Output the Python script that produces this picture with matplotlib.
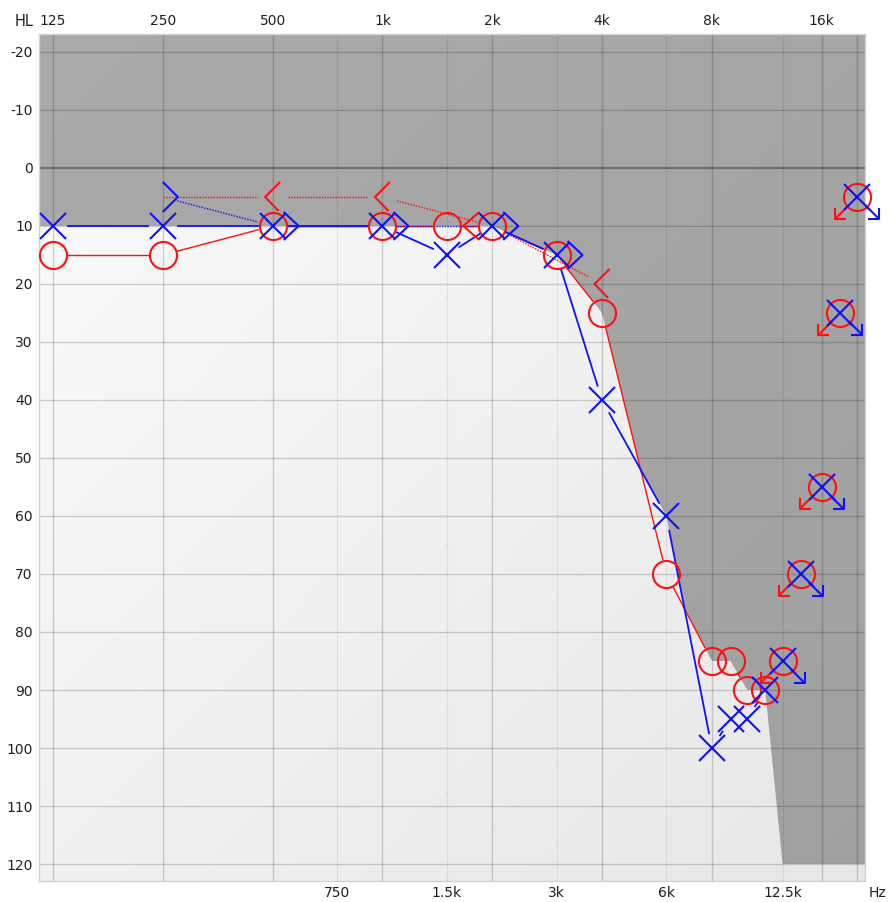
import numpy as np
import matplotlib
matplotlib.use("Agg")
import matplotlib.pyplot as plt
from matplotlib.patches import Polygon
from matplotlib import transforms

# audiogram, dB HL
air_freqs = [125, 250, 500, 1000, 1500, 2000, 3000, 4000, 6000, 8000, 9000, 10000, 11200]
right_air = [15, 15, 10, 10, 10, 10, 15, 25, 70, 85, 85, 90, 90]
left_air = [10, 10, 10, 10, 15, 10, 15, 40, 60, 100, 95, 95, 90]

# no response points (arrows)
nr_freqs = [12500, 14000, 16000, 18000, 20000]
right_nr = [85, 70, 55, 25, 5]
left_nr = [85, 70, 55, 25, 5]

# bone conduction
right_bone_freqs = [250, 500, 1000, 2000, 4000]
right_bone = [5, 5, 5, 10, 20]
right_bone_drawn = [False, True, True, True, True]
left_bone_freqs = [250, 500, 1000, 2000, 3000]
left_bone = [5, 10, 10, 10, 15]

top_freqs = [125, 250, 500, 1000, 2000, 4000, 8000, 16000]
top_labels = ['125', '250', '500', '1k', '2k', '4k', '8k', '16k']
bottom_freqs = [750, 1500, 3000, 6000, 12500]
bottom_labels = ['750', '1.5k', '3k', '6k', '12.5k']
db_ticks = list(range(-20, 121, 10))

RED = '#ff1010'
BLUE = '#1010ff'
TXT = '#202020'

W, H = 891, 902
fig = plt.figure(figsize=(W / 100, H / 100), dpi=100)
ax = fig.add_axes([39 / W, 21 / H, 826 / W, 847 / H])
ax.set_xscale('log')
XLIM = (114.4, 21030)
YLIM = (122.93, -23.1)
ax.set_xlim(*XLIM)
ax.set_ylim(*YLIM)


def to_px(f, v):
    return ax.transData.transform(np.column_stack([np.atleast_1d(f), np.atleast_1d(v)]))


def to_data(pts):
    return ax.transData.inverted().transform(np.asarray(pts, dtype=float))


def trimmed_line(freqs, vals, trims, **kw):
    # segments stop short of the symbols, like the original software
    pts = to_px(freqs, vals)
    for i in range(len(pts) - 1):
        a, b = pts[i], pts[i + 1]
        d = b - a
        L = np.hypot(*d)
        ta, tb = trims[i], trims[i + 1]
        if L <= ta + tb + 2:
            continue
        u = d / L
        p = to_data([a + u * ta, b - u * tb])
        ax.plot(p[:, 0], p[:, 1], **kw)


def px_shape(f, v, shape, **kw):
    # shape in screen pixels (x right, y down) around a data point
    c = to_px(f, v)[0]
    pts = [(c[0] + dx, c[1] - dy) for dx, dy in shape]
    p = to_data(pts)
    ax.plot(p[:, 0], p[:, 1], clip_on=False, solid_capstyle='butt', **kw)


# background: light gradient + dark area above the better-ear curve
gy, gx = np.mgrid[0:1:200j, 0:1:200j]
u = (gx + gy) / 2
light = 0.985 - 0.08 * u
ax.imshow(np.dstack([light] * 3), extent=(0, 1, 0, 1), transform=ax.transAxes,
          aspect='auto', origin='upper', zorder=0, interpolation='bilinear')

fgrid = np.logspace(np.log10(XLIM[0]), np.log10(11200), 400)
lf = np.log2(air_freqs)
best = np.minimum(np.interp(np.log2(fgrid), lf, right_air),
                  np.interp(np.log2(fgrid), lf, left_air))
poly = [(XLIM[0], YLIM[1])] + list(zip(fgrid, best)) + [(12500, 120), (XLIM[1], 120), (XLIM[1], YLIM[1])]
clip = Polygon(poly, closed=True, transform=ax.transData, facecolor='none', edgecolor='none')
ax.add_patch(clip)
dark = 0.665 - 0.035 * u
im = ax.imshow(np.dstack([dark] * 3), extent=(0, 1, 0, 1), transform=ax.transAxes,
               aspect='auto', origin='upper', zorder=0.5, interpolation='bilinear')
im.set_clip_path(clip)

# grid
for d in db_ticks:
    if d == 0:
        ax.axhline(d, color='k', alpha=0.33, lw=1.6, zorder=1)
    else:
        ax.axhline(d, color='k', alpha=0.17, lw=1.0, zorder=1)
for f in top_freqs + [20000]:
    ax.axvline(f, color='k', alpha=0.17, lw=1.0, zorder=1)
for f in bottom_freqs:
    ax.axvline(f, color='k', alpha=0.15, lw=0.8, ls=(0, (1.2, 1.2)), zorder=1)

# air conduction lines
trimmed_line(air_freqs, right_air, [15] * len(air_freqs), color=RED, lw=1.0, zorder=3)
trimmed_line(air_freqs, left_air, [15] * len(air_freqs), color=BLUE, lw=1.3, zorder=3)

# bone conduction lines (dotted)
trimmed_line(right_bone_freqs, right_bone, [15 if s else 0 for s in right_bone_drawn],
             color=RED, lw=1.0, ls=(0, (1, 1)), zorder=3)
trimmed_line(left_bone_freqs, left_bone, [15] * len(left_bone_freqs),
             color=BLUE, lw=1.0, ls=(0, (1, 1)), zorder=3)

# bone symbols, shifted sideways when they sit on the air symbol
air_r = dict(zip(air_freqs, right_air))
air_l = dict(zip(air_freqs, left_air))
for f, v, s in zip(right_bone_freqs, right_bone, right_bone_drawn):
    if not s:
        continue
    if air_r.get(f) == v:
        shape = [(-13, -14), (-29, 0), (-13, 14)]
    else:
        shape = [(7.5, -15), (-7.5, 0), (6, 14)]
    px_shape(f, v, shape, color=RED, lw=1.5, zorder=4)
for f, v in zip(left_bone_freqs, left_bone):
    if air_l.get(f) == v:
        shape = [(11, -14), (26, 0), (11, 14)]
    else:
        shape = [(0, -15), (15, 0), (0, 15)]
    px_shape(f, v, shape, color=BLUE, lw=1.5, zorder=4)

# symbols
ax.plot(air_freqs, right_air, 'o', ms=19.5, mfc='none', mec=RED, mew=1.5, zorder=5, clip_on=False)
ax.plot(air_freqs, left_air, 'x', ms=18.5, mec=BLUE, mew=1.5, zorder=6, clip_on=False)
ax.plot(nr_freqs, right_nr, 'o', ms=19.5, mfc='none', mec=RED, mew=1.5, zorder=5, clip_on=False)
ax.plot(nr_freqs, left_nr, 'x', ms=18.5, mec=BLUE, mew=1.5, zorder=6, clip_on=False)

# no-response arrows
for f, v in zip(nr_freqs, right_nr):
    px_shape(f, v, [(-8, 8), (-22, 22)], color=RED, lw=1.5, zorder=5)
    px_shape(f, v, [(-11, 22), (-22, 22), (-22, 11)], color=RED, lw=1.5, zorder=5)
for f, v in zip(nr_freqs, left_nr):
    px_shape(f, v, [(8, 8), (22, 22)], color=BLUE, lw=1.5, zorder=6)
    px_shape(f, v, [(11, 22), (22, 22), (22, 11)], color=BLUE, lw=1.5, zorder=6)

# axes text
ax.set_yticks(db_ticks)
ax.set_yticklabels([str(d) for d in db_ticks])
ax.tick_params(axis='y', length=0, pad=4.5, labelsize=10, labelcolor=TXT)
ax.set_xticks([])
ax.set_xticks([], minor=True)
ax.tick_params(axis='x', which='both', bottom=False, labelbottom=False)

trans = transforms.blended_transform_factory(ax.transData, ax.transAxes)
for f, lab in zip(top_freqs, top_labels):
    ax.text(f, 1 + 13 / 847, lab, transform=trans, ha='center', va='center', fontsize=10, color=TXT)
for f, lab in zip(bottom_freqs, bottom_labels):
    ax.text(f, -12 / 847, lab, transform=trans, ha='center', va='center', fontsize=10, color=TXT)
ax.text((878 - 39) / 826, -12 / 847, 'Hz', transform=ax.transAxes, ha='center', va='center', fontsize=10, color=TXT)
fig.text(24 / W, 1 - 21 / H, 'HL', ha='center', va='center', fontsize=10.5, color=TXT)

for sp in ax.spines.values():
    sp.set_color('#d2d2d2')
    sp.set_linewidth(1.0)

ax.set_xlim(*XLIM)
ax.set_ylim(*YLIM)
fig.savefig('out.png', dpi=100, facecolor='white')
